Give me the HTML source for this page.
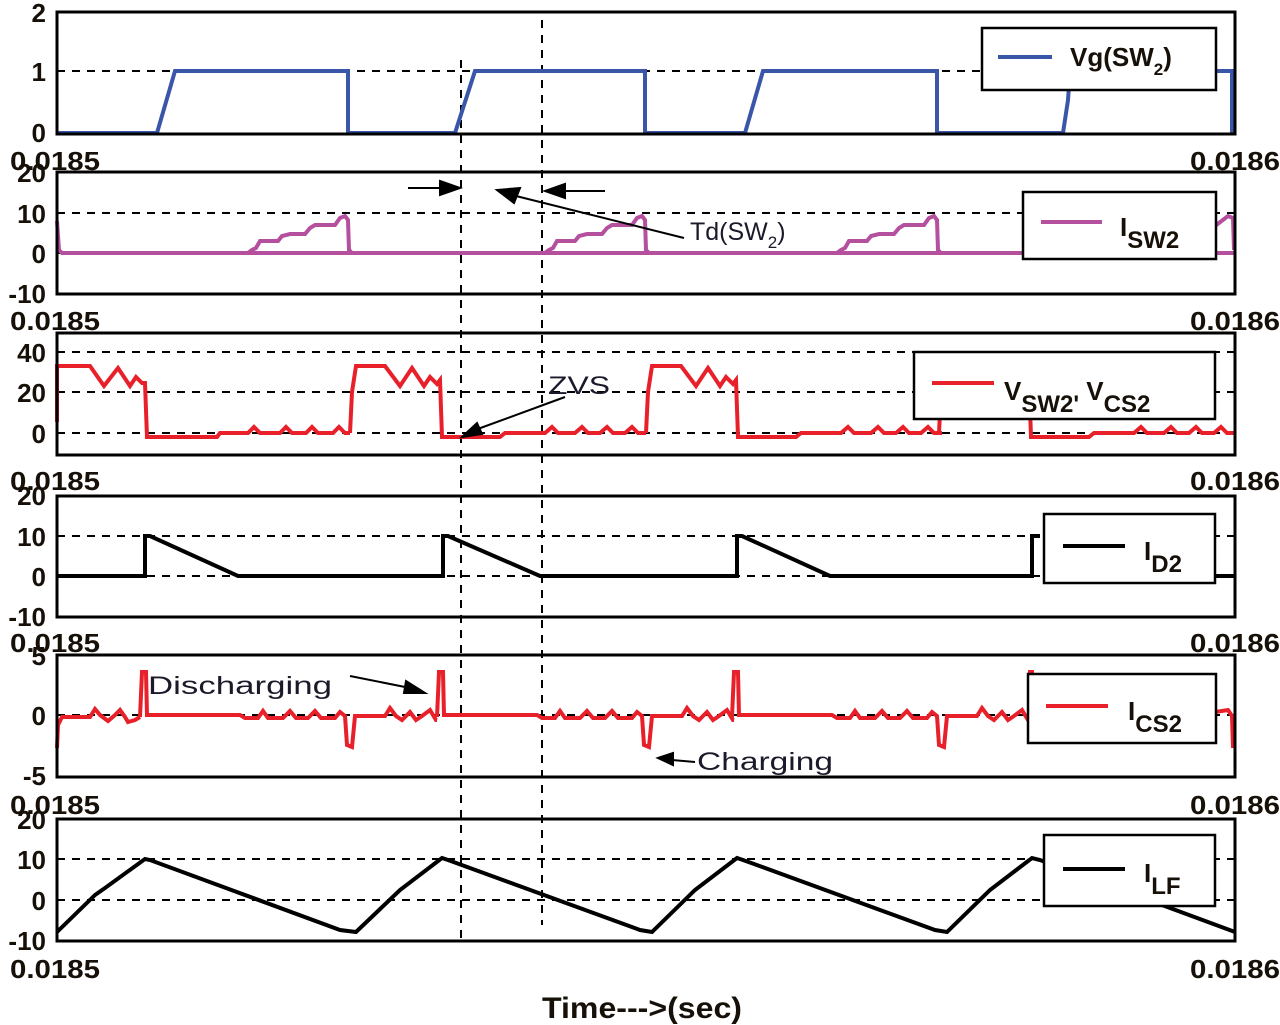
<!DOCTYPE html>
<html><head><meta charset="utf-8"><style>
html,body{margin:0;padding:0;background:#fff;}
svg{display:block;}
.t{font-family:"Liberation Sans",sans-serif;font-weight:bold;font-size:26px;fill:#161008;}
.n{font-family:"Liberation Sans",sans-serif;font-size:25px;fill:#1a1a2a;}
.g{stroke:#000;stroke-width:2;stroke-dasharray:8,7;fill:none;}
.b{stroke:#000;stroke-width:3;fill:none;}
.w{stroke-width:4;fill:none;stroke-linejoin:miter;}
</style></head><body>
<svg width="1280" height="1025" viewBox="0 0 1280 1025" xmlns="http://www.w3.org/2000/svg">
<g class="g">
<line x1="57" y1="71" x2="1235" y2="71"/>
<line x1="57" y1="213" x2="1235" y2="213"/><line x1="57" y1="253" x2="1235" y2="253"/>
<line x1="57" y1="352" x2="1235" y2="352"/><line x1="57" y1="392" x2="1235" y2="392"/><line x1="57" y1="433" x2="1235" y2="433"/>
<line x1="57" y1="536" x2="1235" y2="536"/><line x1="57" y1="576" x2="1235" y2="576"/>
<line x1="57" y1="715" x2="1235" y2="715"/>
<line x1="57" y1="859" x2="1235" y2="859"/><line x1="57" y1="900" x2="1235" y2="900"/>
<line x1="461" y1="60" x2="461" y2="940"/>
<line x1="542" y1="20" x2="542" y2="925"/>
</g>
<path class="w" stroke="#3a56a8" d="M57,133 H157 L175,71 H348 V133 H455 L475,71 H645 V133 H745 L763,71 H937 V133 H1063 L1068,100 L1070,71 H1232 V133"/>
<g stroke="#b4509e" class="w">
<path d="M57,221 L59,250 L62,253 H1235"/>
<g id="s2"><path d="M240,253 H248 L252,250 L256,248 L260,241 H278 L282,236 L290,234 H305 L310,228 L315,225 H335 L340,218 L345,216 L348,220 L349,250 L352,253"/></g>
<use href="#s2" transform="translate(297,0)"/>
<use href="#s2" transform="translate(589,0)"/>
<path d="M1215,226 L1228,216 L1233,218 L1234,250"/>
</g>
<g stroke="#e8202a" class="w">
<path d="M57,422 L57,366 H90 L104,386 L118,368 L130,386 L136,377 L142,383 L145,383 L147,437 H217 L220,433 H248 L254,427 L260,433 H280 L286,427 L292,433 H306 L312,427 L318,433 H333 L339,427 L345,433 H350"/>
<g id="s3"><path d="M350,433 L352,392 L356,366 H385 L400,386 L412,368 L424,386 L430,377 L437,384 L440,380 L442,437 H500 L505,433 H545 L552,427 L558,433 H575 L582,427 L588,433 H600 L607,427 L613,433 H625 L632,427 L638,433 L646,433"/></g>
<use href="#s3" transform="translate(296,0)"/>
<use href="#s3" transform="translate(589,0)"/>
</g>
<path class="w" stroke="#000" d="M57,576 H145 V536 L150,536 L238,576 H443 V536 L448,536 L540,576 H737 V536 L742,536 L830,576 H1032 V536 L1040,536 M1210,576 H1235"/>
<g stroke="#e8202a" class="w">
<path d="M57,748 L58,725 L62,717 H90 L95,709 L100,715 L108,721 L115,715 L120,710 L125,717 L128,722 L135,720 L140,717"/>
<g id="s5"><path d="M140,717 L142,672 L146,672 L147,715 H240 L245,718 H258 L263,711 L268,718 H283 L290,711 L296,718 H308 L315,711 L321,718 H335 L340,712 L345,716 L347,745 L352,747 L355,716 H385 L390,708 L396,716 L402,720 L410,712 L416,720 L422,716 L430,710 L436,720 L437,720"/></g>
<use href="#s5" transform="translate(297,0)"/>
<use href="#s5" transform="translate(592,0)"/>
<path d="M1029,720 L1030,672 L1034,672"/>
<path d="M1215,712 L1228,710 L1232,716 L1233,748"/>
</g>
<path class="w" stroke="#000" d="M57,932 L95,895 L105,888 L145,859 L150,860 L340,930 L356,932 L400,890 L442,858 L448,860 L640,930 L652,932 L695,890 L737,858 L743,860 L935,930 L947,932 L990,890 L1032,858 L1040,860 L1235,932"/>
<g class="b">
<rect x="57" y="12" width="1178" height="122"/>
<rect x="57" y="172" width="1178" height="122"/>
<rect x="57" y="333" width="1178" height="122"/>
<rect x="57" y="496" width="1178" height="121"/>
<rect x="57" y="655" width="1178" height="122"/>
<rect x="57" y="819" width="1178" height="122"/>
</g>
<g stroke="#000" stroke-width="2.5" fill="#fff">
<rect x="982" y="28" width="234" height="62"/>
<rect x="1023" y="192" width="193" height="67"/>
<rect x="914" y="352" width="301" height="67"/>
<rect x="1044" y="514" width="171" height="69"/>
<rect x="1028" y="674" width="188" height="69"/>
<rect x="1044" y="835" width="171" height="71"/>
</g>
<g stroke-width="4">
<line x1="998" y1="57" x2="1052" y2="57" stroke="#3a56a8"/>
<line x1="1041" y1="222" x2="1102" y2="222" stroke="#b4509e"/>
<line x1="932" y1="383" x2="994" y2="383" stroke="#e8202a"/>
<line x1="1063" y1="546" x2="1125" y2="546" stroke="#000"/>
<line x1="1046" y1="706" x2="1108" y2="706" stroke="#e8202a"/>
<line x1="1063" y1="869" x2="1125" y2="869" stroke="#000"/>
</g>
<text class="t" x="1070" y="66" font-size="30">Vg(SW<tspan font-size="17" dy="9">2</tspan><tspan dy="-9">)</tspan></text>
<text class="t" x="1120" y="236" font-size="36">I<tspan font-size="24" dy="12">SW2</tspan></text>
<text class="t" x="1004" y="400" font-size="36">V<tspan font-size="24" dy="12">SW2'</tspan><tspan dy="-12"> V</tspan><tspan font-size="24" dy="12">CS2</tspan></text>
<text class="t" x="1144" y="560" font-size="36">I<tspan font-size="24" dy="12">D2</tspan></text>
<text class="t" x="1128" y="720" font-size="36">I<tspan font-size="24" dy="12">CS2</tspan></text>
<text class="t" x="1144" y="882" font-size="36">I<tspan font-size="24" dy="12">LF</tspan></text>
<g class="t" text-anchor="end" font-size="28">
<text x="46" y="22">2</text><text x="46" y="81">1</text><text x="46" y="142">0</text>
<text x="46" y="182">20</text><text x="46" y="223">10</text><text x="46" y="263">0</text><text x="46" y="303">-10</text>
<text x="46" y="362">40</text><text x="46" y="402">20</text><text x="46" y="443">0</text>
<text x="46" y="505">20</text><text x="46" y="546">10</text><text x="46" y="586">0</text><text x="46" y="626">-10</text>
<text x="46" y="665">5</text><text x="46" y="725">0</text><text x="46" y="785">-5</text>
<text x="46" y="829">20</text><text x="46" y="869">10</text><text x="46" y="910">0</text><text x="46" y="950">-10</text>
</g>
<g class="t" font-size="28">
<text x="10" y="170" textLength="90" lengthAdjust="spacingAndGlyphs">0.0185</text><text x="1190" y="170" textLength="90" lengthAdjust="spacingAndGlyphs">0.0186</text>
<text x="10" y="330" textLength="90" lengthAdjust="spacingAndGlyphs">0.0185</text><text x="1190" y="330" textLength="90" lengthAdjust="spacingAndGlyphs">0.0186</text>
<text x="10" y="490" textLength="90" lengthAdjust="spacingAndGlyphs">0.0185</text><text x="1190" y="490" textLength="90" lengthAdjust="spacingAndGlyphs">0.0186</text>
<text x="10" y="652" textLength="90" lengthAdjust="spacingAndGlyphs">0.0185</text><text x="1190" y="652" textLength="90" lengthAdjust="spacingAndGlyphs">0.0186</text>
<text x="10" y="814" textLength="90" lengthAdjust="spacingAndGlyphs">0.0185</text><text x="1190" y="814" textLength="90" lengthAdjust="spacingAndGlyphs">0.0186</text>
<text x="10" y="978" textLength="90" lengthAdjust="spacingAndGlyphs">0.0185</text><text x="1190" y="978" textLength="90" lengthAdjust="spacingAndGlyphs">0.0186</text>
<text x="542" y="1018" font-size="30" textLength="200" lengthAdjust="spacingAndGlyphs">Time---&gt;(sec)</text>
</g>
<g stroke="#000" stroke-width="2" fill="#000">
<line x1="408" y1="188" x2="445" y2="188"/><polygon points="440,181 460,188 440,195"/>
<line x1="560" y1="191" x2="605" y2="191"/><polygon points="565,184 545,191 565,198"/>
<line x1="684" y1="238" x2="512" y2="195"/><polygon points="497,190 520,188 514,203"/>
<line x1="565" y1="397" x2="475" y2="430"/><polygon points="462,437 477,423 482,434"/>
<line x1="350" y1="676" x2="410" y2="688"/><polygon points="425,693 406,681 404,693"/>
<line x1="695" y1="762" x2="672" y2="760"/><polygon points="658,758 673,753 673,765"/>
</g>
<text class="n" x="690" y="240" font-size="27">Td(SW<tspan font-size="17" dy="8">2</tspan><tspan dy="-8">)</tspan></text>
<text class="n" x="548" y="394" font-size="27" textLength="62" lengthAdjust="spacingAndGlyphs">ZVS</text>
<text class="n" x="148" y="694" font-size="34" textLength="184" lengthAdjust="spacingAndGlyphs">Discharging</text>
<text class="n" x="697" y="770" font-size="34" textLength="136" lengthAdjust="spacingAndGlyphs">Charging</text>
</svg>
</body></html>
